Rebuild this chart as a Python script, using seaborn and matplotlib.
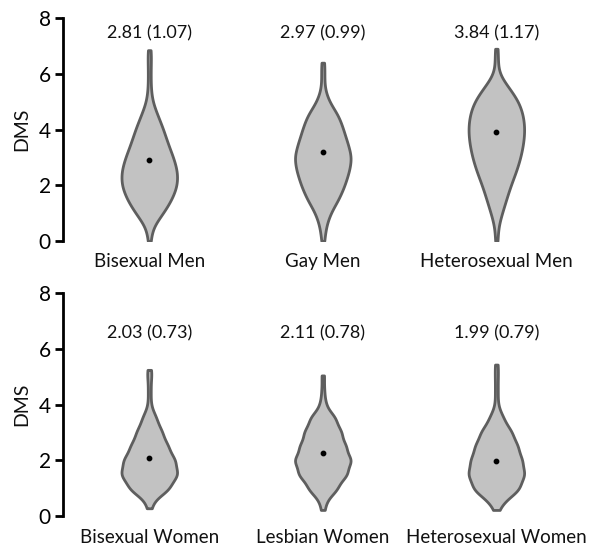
import matplotlib.pyplot as plt
import seaborn as sns
import numpy as np
import pandas as pd

# groups per panel
men_groups = ['Bisexual Men', 'Gay Men', 'Heterosexual Men']
women_groups = ['Bisexual Women', 'Lesbian Women', 'Heterosexual Women']

# mean (SD) labels shown above the violins
men_labels = ['2.81 (1.07)', '2.97 (0.99)', '3.84 (1.17)']
women_labels = ['2.03 (0.73)', '2.11 (0.78)', '1.99 (0.79)']

# centre dots
men_dots = [2.9, 3.2, 3.9]
women_dots = [2.08, 2.28, 1.97]

# DMS score levels and how many respondents sit at each
bisexual_men_vals = [0, 0.5, 1, 1.5, 2, 2.5, 3, 3.5, 4, 4.5, 5, 5.5, 6, 6.5, 6.85]
bisexual_men_cnt = [1, 2, 10, 16, 20, 20, 17, 13, 10, 6, 2, 1, 1, 1, 1]
gay_men_vals = [0, 0.5, 1, 1.5, 2, 2.5, 3, 3.5, 4, 4.5, 5, 5.5, 6, 6.4]
gay_men_cnt = [1, 2, 5, 11, 15, 18, 20, 17, 14, 11, 4, 1, 1, 1]
hetero_men_vals = [0, 0.5, 1, 1.5, 2, 2.5, 3, 3.5, 4, 4.5, 5, 5.5, 6, 6.5, 6.9]
hetero_men_cnt = [1, 1, 4, 7, 10, 14, 17, 19, 20, 19, 16, 9, 1, 1, 1]

bisexual_women_vals = [0.28, 0.6, 1, 1.5, 2, 2.5, 3, 3.5, 4, 4.5, 5, 5.25]
bisexual_women_cnt = [1, 2, 14, 20, 18, 13, 9, 5, 1, 1, 1, 1]
lesbian_women_vals = [0.22, 0.6, 1, 1.5, 2, 2.5, 3, 3.5, 4, 4.5, 5.05]
lesbian_women_cnt = [1, 2, 10, 17, 20, 16, 13, 9, 2, 1, 1]
hetero_women_vals = [0.22, 0.6, 1, 1.5, 2, 2.5, 3, 3.5, 4, 4.5, 5, 5.44]
hetero_women_cnt = [1, 5, 16, 20, 18, 15, 11, 5, 1, 1, 1, 1]

men_values = [(bisexual_men_vals, bisexual_men_cnt),
              (gay_men_vals, gay_men_cnt),
              (hetero_men_vals, hetero_men_cnt)]
women_values = [(bisexual_women_vals, bisexual_women_cnt),
                (lesbian_women_vals, lesbian_women_cnt),
                (hetero_women_vals, hetero_women_cnt)]


def long_df(groups, values):
    frames = []
    for g, (vals, cnt) in zip(groups, values):
        frames.append(pd.DataFrame({'Group': g, 'DMS': np.repeat(vals, cnt)}))
    return pd.concat(frames, ignore_index=True)


sns.set_theme(style='white')
plt.rcParams['font.family'] = ['Lato', 'DejaVu Sans']

fig, axes = plt.subplots(2, 1, figsize=(5.89, 5.49), dpi=100)
fig.subplots_adjust(left=0.112, right=0.99, top=0.967, bottom=0.06, hspace=0.235)

panels = [(men_groups, men_values, men_labels, men_dots, 7.45),
          (women_groups, women_values, women_labels, women_dots, 6.55)]

for ax, (groups, values, labels, dots, label_y) in zip(axes, panels):
    df = long_df(groups, values)
    sns.violinplot(data=df, x='Group', y='DMS', ax=ax, order=groups,
                   color='#c2c2c2', linecolor='#5e5e5e', linewidth=2,
                   saturation=1, inner=None, cut=0, density_norm='width',
                   width=0.32, bw_method=0.28)
    ax.scatter(range(len(groups)), dots, s=10, color='black', marker='o', zorder=5)
    for i, txt in enumerate(labels):
        ax.text(i, label_y, txt, ha='center', va='center', fontsize=13, color='#111111')

    ax.set_ylim(0, 8)
    ax.set_yticks([0, 2, 4, 6, 8])
    ax.set_xlim(-0.48, 2.5)
    ax.set_xlabel('')
    ax.set_ylabel('DMS', fontsize=14, color='#111111', labelpad=6)
    for side in ['top', 'right', 'bottom']:
        ax.spines[side].set_visible(False)
    ax.spines['left'].set_color('black')
    ax.spines['left'].set_linewidth(2)
    ax.spines['left'].set_position(('outward', 2))
    ax.tick_params(axis='y', which='both', left=True, length=6, width=2,
                   labelsize=15, colors='black', pad=3)
    ax.tick_params(axis='x', length=0, labelsize=13.5, pad=9, colors='#111111')

fig.savefig('out.png', dpi=100)
